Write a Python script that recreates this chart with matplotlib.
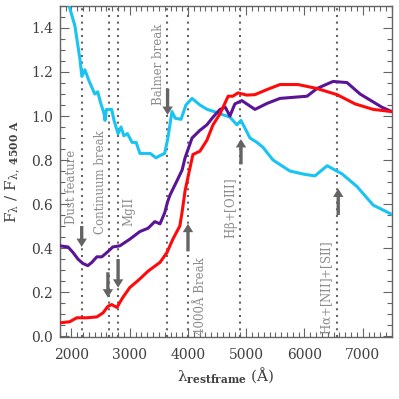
import numpy as np
import matplotlib
matplotlib.use("Agg")
import matplotlib.pyplot as plt
from matplotlib.ticker import MultipleLocator, FormatStrFormatter

plt.rcParams['font.family'] = ['DejaVu Serif']
plt.rcParams['mathtext.fontset'] = 'dejavuserif'

# --- spectra (wavelength in A, normalised flux) ---
cyan_wl = [1937, 2058, 2144, 2178, 2230, 2300, 2400, 2450, 2500, 2560, 2575, 2600, 2690,
           2730, 2800, 2850, 2900, 2960, 3040, 3110, 3175, 3350, 3450, 3520, 3600,
           3655, 3725, 3780, 3880, 3965, 4070, 4205, 4330, 4450, 4550, 4720, 4840,
           4910, 5065, 5185, 5290, 5460, 5750, 6000, 6180, 6390, 6645, 6900, 7180, 7500]
cyan_fl = [1.52, 1.41, 1.26, 1.18, 1.21, 1.16, 1.10, 1.11, 1.06, 1.01, 0.98, 1.03, 1.03,
           0.98, 0.92, 0.95, 0.91, 0.92, 0.88, 0.88, 0.83, 0.83, 0.81, 0.82, 0.83,
           0.90, 1.02, 0.99, 0.985, 1.05, 1.08, 1.05, 1.03, 1.02, 1.01, 0.995, 0.96,
           0.98, 0.90, 0.88, 0.857, 0.80, 0.75, 0.735, 0.728, 0.774, 0.737, 0.68, 0.595, 0.553]

purple_wl = [1800, 1940, 2025, 2110, 2195, 2280, 2350, 2435, 2520, 2610, 2710, 2830,
             3000, 3175, 3315, 3430, 3520, 3600, 3650, 3690, 3810, 3900, 3950, 4070,
             4205, 4325, 4430, 4550, 4640, 4720, 4805, 4925, 5150, 5355, 5580, 6045,
             6215, 6490, 6730, 6955, 7330, 7500]
purple_fl = [0.41, 0.405, 0.38, 0.35, 0.33, 0.32, 0.335, 0.36, 0.36, 0.38, 0.405, 0.41,
             0.44, 0.475, 0.49, 0.52, 0.51, 0.56, 0.61, 0.64, 0.705, 0.755, 0.81, 0.90,
             0.935, 0.96, 0.995, 1.03, 1.04, 1.0, 1.055, 1.07, 1.03, 1.057, 1.08, 1.09,
             1.125, 1.157, 1.152, 1.10, 1.04, 1.02]

red_wl = [1800, 1970, 2090, 2260, 2435, 2540, 2625, 2690, 2780, 2880, 3000, 3175,
          3315, 3520, 3640, 3740, 3860, 3900, 3950, 4035, 4085, 4205, 4325, 4430,
          4550, 4690, 4770, 4860, 5010, 5150, 5355, 5580, 5890, 6215, 6560, 6870,
          7180, 7500]
red_fl = [0.06, 0.065, 0.083, 0.083, 0.087, 0.105, 0.135, 0.143, 0.13, 0.175, 0.22, 0.26,
          0.295, 0.335, 0.38, 0.44, 0.50, 0.565, 0.66, 0.765, 0.825, 0.84, 0.89, 0.96,
          1.01, 1.09, 1.09, 1.105, 1.095, 1.097, 1.12, 1.143, 1.143, 1.125, 1.097, 1.055,
          1.03, 1.02]

# --- spectral features: line position, label, label x, label bottom, arrow tail, arrow head ---
feat_wl = [2175, 2640, 2800, 3646, 4000, 4900, 6563]
feat_lab = ['Dust feature', 'Continuum break', 'MgII', 'Balmer break',
            '4000Å Break', r'H$\mathrm{\beta}$+[OIII]', r'H$\mathrm{\alpha}$+[NII]+[SII]']
lab_x = [2000, 2490, 2985, 3490, 4210, 4755, 6390]
lab_y = [0.51, 0.465, 0.50, 1.05, 0.005, 0.44, 0.005]
arr_x = [2175, 2625, 2800, 3650, 4000, 4910, 6580]
arr_from = [0.50, 0.29, 0.35, 1.125, 0.385, 0.78, 0.55]
arr_to = [0.405, 0.175, 0.22, 1.005, 0.51, 0.895, 0.67]

grey = '#646464'
txtgrey = '#8c8c8c'

fig = plt.figure(figsize=(3.99, 3.99), dpi=100)
ax = fig.add_axes([0.150, 0.155, 0.832, 0.830])

for w in feat_wl:
    ax.axvline(w, color=grey, lw=1.5, linestyle=(0, (1, 2.2)), zorder=1)

ax.plot(cyan_wl, cyan_fl, color='#19c3f2', lw=2.2, zorder=3)
ax.plot(purple_wl, purple_fl, color='#5a1496', lw=2.2, zorder=3)
ax.plot(red_wl, red_fl, color='#ff0a0a', lw=2.2, zorder=3)

for i in range(len(feat_wl)):
    ax.annotate('', xy=(arr_x[i], arr_to[i]), xytext=(arr_x[i], arr_from[i]),
                arrowprops=dict(width=2.4, headwidth=7.5, headlength=6, color=grey, lw=0),
                zorder=4)
    ax.text(lab_x[i], lab_y[i], feat_lab[i], rotation=90, ha='center', va='bottom',
            color=txtgrey, fontsize=8.5, zorder=4)

ax.set_xlim(1800, 7500)
ax.set_ylim(-0.005, 1.5)
ax.xaxis.set_major_locator(MultipleLocator(1000))
ax.xaxis.set_minor_locator(MultipleLocator(100))
ax.yaxis.set_major_locator(MultipleLocator(0.2))
ax.yaxis.set_minor_locator(MultipleLocator(0.05))
ax.yaxis.set_major_formatter(FormatStrFormatter('%.1f'))
ax.tick_params('both', which='major', direction='in', length=6.5, width=0.8,
               top=True, right=True, color=grey, labelsize=10, labelcolor='#404040', pad=5)
ax.tick_params('x', which='major', pad=8)
ax.tick_params('both', which='minor', direction='in', length=3.5, width=0.8,
               top=True, right=True, color=grey)
for s in ax.spines.values():
    s.set_color(grey)
    s.set_linewidth(1.0)

ax.set_xlabel(r'λ$_{\mathbf{restframe}}$ (Å)', fontsize=11, color='#404040', labelpad=2)
ax.set_ylabel(r'F$_{\mathrm{\lambda}}$ / F$_{\mathrm{\lambda},\ \mathbf{4500\ A}}$', fontsize=11,
              color='#404040', labelpad=6)

fig.savefig('out.png', dpi=100)
